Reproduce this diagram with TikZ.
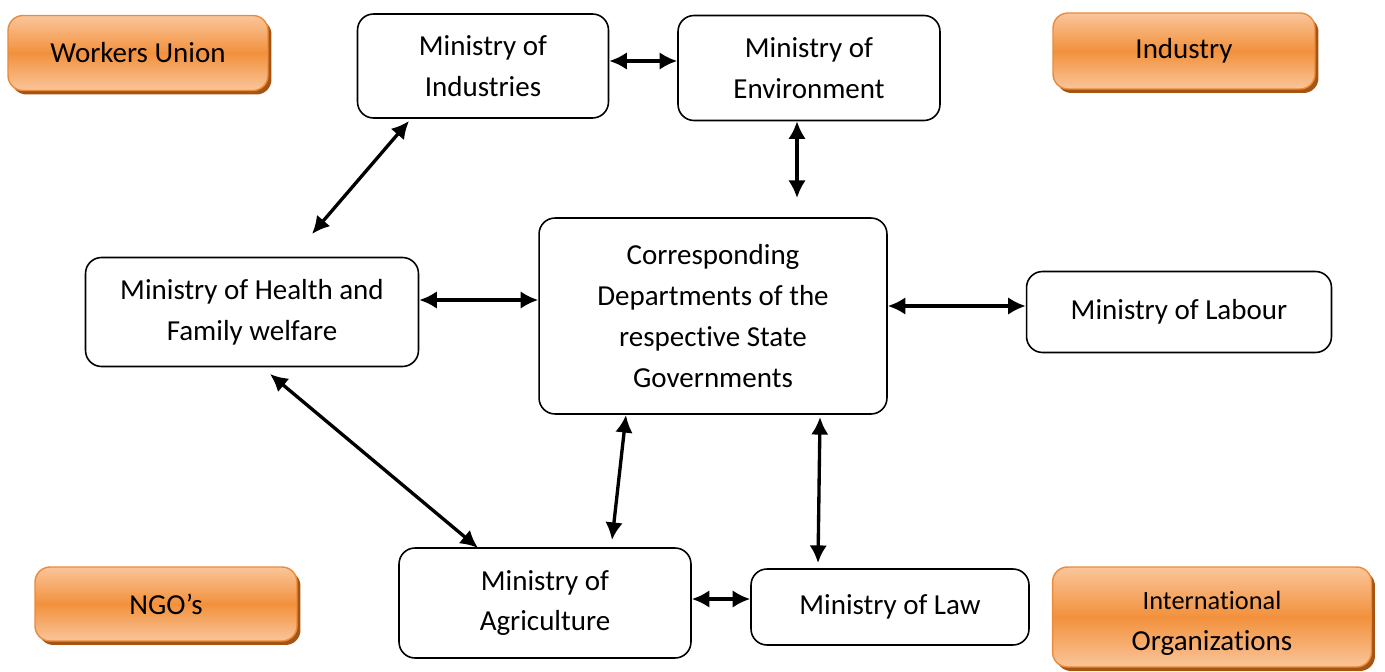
\documentclass[tikz,border=0pt]{standalone}
\usepackage{fontspec}
\setmainfont{Carlito}[Ligatures=NoCommon]
\usepackage{tikz}
\usetikzlibrary{arrows.meta,shadows}

\definecolor{orTop}{HTML}{FAC59A}
\definecolor{orMid}{HTML}{F2913C}
\definecolor{orLine}{HTML}{E98A3C}
\definecolor{orShade}{HTML}{A65411}

\tikzset{
  body/.style={draw, line width=0.9pt, rounded corners=0.32cm, align=center,
    font=\fontsize{16.5}{23.3}\selectfont, inner sep=0pt},
  party/.style={rounded corners=0.3cm, align=center, draw=orLine, line width=0.8pt,
    top color=orTop, bottom color=orTop, middle color=orMid,
    drop shadow={shadow xshift=0.07cm, shadow yshift=-0.08cm, fill=orShade, opacity=1},
    font=\fontsize{16.5}{23.3}\selectfont, inner sep=0pt},
  link/.style={line width=1.9pt, {Latex[length=10pt,width=10pt]}-{Latex[length=10pt,width=10pt]}}
}

\begin{document}
\begin{tikzpicture}[x=0.02cm, y=-0.02cm]
            \useasboundingbox (0,0) rectangle (1385,672);
            % outside parties
            \node[party, minimum width=5.2cm, minimum height=1.5cm] (workers) at (138,53) {Workers Union};
            \node[party, minimum width=5.24cm, minimum height=1.52cm] (industry) at (1184,51) {Industry};
            \node[party, minimum width=5.24cm, minimum height=1.48cm] (ngo) at (166,604) {NGO’s};
            \node[party, minimum width=6.38cm, minimum height=2.0cm] (intl) at (1212,617)
                {\rule{0pt}{18pt}{\fontsize{15}{23.3}\selectfont International}\\Organizations};
            % ministries
            \node[body, minimum width=5.02cm, minimum height=2.08cm] (ind) at (483,66) {Ministry of\\Industries};
            \node[body, minimum width=5.24cm, minimum height=2.1cm] (env) at (809,68) {Ministry of\\Environment};
            \node[body, minimum width=6.96cm, minimum height=3.92cm] (state) at (713,316) {Corresponding\\Departments of the\\respective State\\Governments};
            \node[body, minimum width=6.66cm, minimum height=2.18cm] (health) at (252,312) {Ministry of Health and\\Family welfare};
            \node[body, minimum width=6.1cm, minimum height=1.62cm] (labour) at (1179,312) {Ministry of Labour};
            \node[body, minimum width=5.84cm, minimum height=2.2cm] (agri) at (545,603) {Ministry of\\Agriculture};
            \node[body, minimum width=5.56cm, minimum height=1.52cm] (law) at (890,607) {Ministry of Law};
            % free ends of the arrows
            \coordinate (envS) at (797,198);
            \coordinate (indS) at (409,121);
            \coordinate (healthN) at (312,234);
            \coordinate (healthS) at (270,374);
            \coordinate (agriN) at (478,548);
            \coordinate (stateSW) at (626,415);
            \coordinate (agriNE) at (612,540);
            \coordinate (stateSE) at (820,417);
            \coordinate (lawN) at (818,563);
            % links
            \draw[link] (ind.east |- 0,61) -- (env.west |- 0,61);
            \draw[link] (env.south -| envS) -- (envS);
            \draw[link] (indS) -- (healthN);
            \draw[link] (health.east |- 0,300) -- (state.west |- 0,300);
            \draw[link] (state.east |- 0,306) -- (labour.west |- 0,306);
            \draw[link] (healthS) -- (agriN);
            \draw[link] (stateSW) -- (agriNE);
            \draw[link] (stateSE) -- (lawN);
            \draw[link] (agri.east |- 0,599) -- (law.west |- 0,599);
\end{tikzpicture}
\end{document}
